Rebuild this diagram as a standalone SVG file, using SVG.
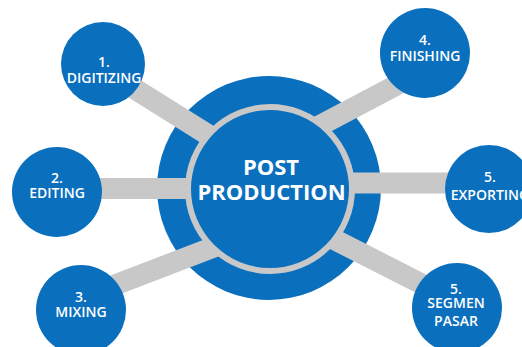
<svg xmlns="http://www.w3.org/2000/svg" width="522" height="347" viewBox="0 0 522 347">
  <defs>
    <style>
      .hub { fill: #0a6fbd; }
      .sat { fill: #0a6fbd; }
      .ring { fill: #0a6fbd; stroke: #c8c8c8; stroke-width: 6; }
      .bar { stroke: #c8c8c8; stroke-width: 21; fill: none; }
      .lbl { font-family: "Open Sans", "Noto Sans", "Liberation Sans", sans-serif; font-weight: 600; font-size: 14px; fill: #ffffff; text-anchor: middle; }
      .title { font-family: "Open Sans", "Noto Sans", "Liberation Sans", sans-serif; font-weight: 700; font-size: 22px; fill: #ffffff; text-anchor: middle; }
    </style>
  </defs>
  <rect width="522" height="347" fill="#ffffff"/>

  <!-- outer disc of the hub -->
  <circle class="hub" cx="269" cy="188" r="112"/>

  <!-- spokes -->
  <g id="connectors">
    <line class="bar" x1="103" y1="69" x2="245" y2="158"/>
    <line class="bar" x1="57" y1="188.5" x2="230" y2="188.5"/>
    <line class="bar" x1="81" y1="298" x2="240" y2="237"/>
    <line class="bar" x1="425" y1="70" x2="300" y2="136"/>
    <line class="bar" x1="490" y1="183" x2="310" y2="183"/>
    <line class="bar" x1="457" y1="302" x2="300" y2="222"/>
  </g>

  <!-- hub -->
  <g id="post-production">
    <circle class="ring" cx="270" cy="189" r="82"/>
    <text class="title" x="271" y="175">POST<tspan x="271.5" dy="25">PRODUCTION</tspan></text>
  </g>

  <g id="digitizing">
    <circle class="sat" cx="103" cy="64" r="42"/>
    <text class="lbl" x="104" y="67">1.<tspan x="104" dy="16">DIGITIZING</tspan></text>
  </g>

  <g id="editing">
    <circle class="sat" cx="57" cy="192" r="45"/>
    <text class="lbl" x="57" y="183">2.<tspan x="57" dy="15">EDITING</tspan></text>
  </g>

  <g id="mixing">
    <circle class="sat" cx="81" cy="310" r="45"/>
    <text class="lbl" x="81" y="302">3.<tspan x="81" dy="15">MIXING</tspan></text>
  </g>

  <g id="finishing">
    <circle class="sat" cx="425" cy="53" r="45"/>
    <text class="lbl" x="425" y="45">4.<tspan x="425" dy="16">FINISHING</tspan></text>
  </g>

  <g id="exporting">
    <circle class="sat" cx="489" cy="189" r="44"/>
    <text class="lbl" x="490" y="182">5.<tspan x="490" dy="18">EXPORTING</tspan></text>
  </g>

  <g id="segmen-pasar">
    <circle class="sat" cx="457" cy="308" r="45"/>
    <text class="lbl" x="456" y="294">5.<tspan x="456" dy="14">SEGMEN</tspan><tspan x="456" dy="18">PASAR</tspan></text>
  </g>
</svg>
